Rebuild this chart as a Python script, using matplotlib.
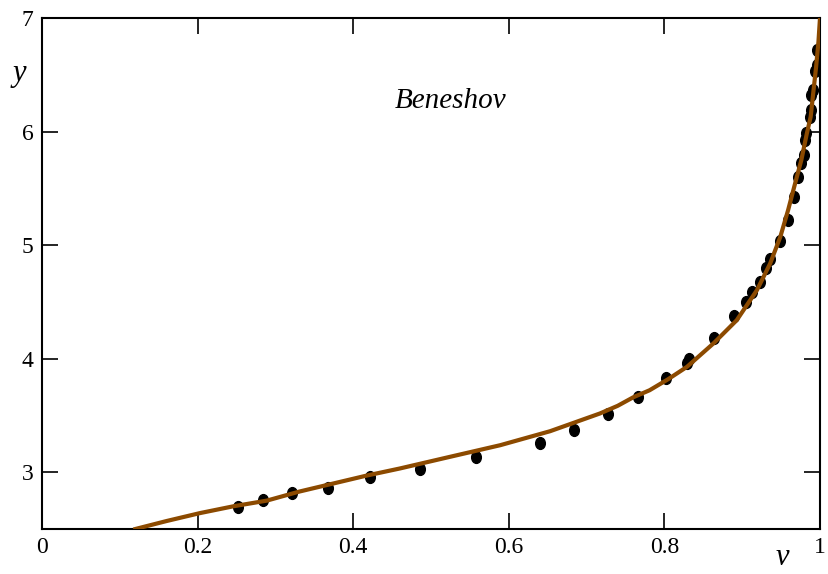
import matplotlib
matplotlib.use("Agg")
import matplotlib.pyplot as plt
from matplotlib.path import Path

plt.rcParams['font.family'] = ['Liberation Serif', 'DejaVu Serif']

# measured points
v_obs = [0.252, 0.284, 0.321, 0.368, 0.422, 0.486, 0.558, 0.640, 0.684,
         0.728, 0.766, 0.802, 0.829, 0.832, 0.864, 0.890, 0.905, 0.912,
         0.923, 0.930, 0.936, 0.948, 0.959, 0.967, 0.972, 0.976, 0.979,
         0.981, 0.982, 0.987, 0.989, 0.989, 0.991, 0.994, 0.996, 0.996]
y_obs = [2.694, 2.753, 2.818, 2.865, 2.959, 3.026, 3.130, 3.258, 3.376,
         3.511, 3.663, 3.826, 3.958, 3.993, 4.178, 4.374, 4.495, 4.589,
         4.677, 4.795, 4.874, 5.04, 5.22, 5.42, 5.60, 5.72, 5.79,
         5.93, 5.99, 6.13, 6.19, 6.32, 6.37, 6.53, 6.59, 6.72]

# fitted curve
v_fit = [0.12, 0.16, 0.203, 0.246, 0.289, 0.331, 0.374, 0.417, 0.460,
         0.524, 0.589, 0.653, 0.717, 0.740, 0.760, 0.781, 0.805, 0.829,
         0.846, 0.863, 0.893, 0.919, 0.936, 0.949, 0.959, 0.968, 0.976,
         0.983, 0.988, 0.991, 0.995, 0.998, 1.0]
y_fit = [2.50, 2.57, 2.64, 2.70, 2.75, 2.83, 2.90, 2.97, 3.033,
         3.135, 3.238, 3.361, 3.517, 3.585, 3.66, 3.722, 3.82, 3.928,
         4.031, 4.134, 4.339, 4.604, 4.839, 5.073, 5.308, 5.543, 5.749,
         5.98, 6.13, 6.32, 6.57, 6.79, 7.0]

x_ticks = [0, 0.2, 0.4, 0.6, 0.8, 1]
x_labels = ['0', '0.2', '0.4', '0.6', '0.8', '1']
y_ticks = [3, 4, 5, 6, 7]

W, H = 829, 574
fig = plt.figure(figsize=(W / 100, H / 100), dpi=100)
ax = fig.add_axes([42 / W, 1 - 529 / H, 778 / W, 511 / H])

# slightly tall dots, like the original
circ = Path.unit_circle()
ell = Path(circ.vertices * [0.82, 1.0], circ.codes)

ax.plot(v_obs, y_obs, linestyle='none', marker=ell, color='black',
        markersize=8.5, zorder=2)
ax.plot(v_fit, y_fit, color='#8c4a00', linewidth=3, zorder=3)

ax.set_xlim(0, 1)
ax.set_ylim(2.5, 7)
ax.set_xticks(x_ticks)
ax.set_xticklabels(x_labels)
ax.set_yticks(y_ticks)
ax.tick_params(direction='in', length=11.5, width=1.2, labelsize=17,
               top=True, right=True, pad=6)
for s in ax.spines.values():
    s.set_linewidth(1.5)

ax.text(0.525, 3 + (472 - 108) / 113.5, 'Beneshov', style='italic',
        fontsize=21, ha='center', va='baseline')
fig.text(19.5 / W, 1 - 73 / H, 'y', style='italic', fontsize=22,
         ha='center', va='center')
fig.text(782 / W, 1 - 572 / H, 'v', style='italic', fontsize=22,
         ha='center', va='bottom')

fig.savefig('out.png', dpi=100)
